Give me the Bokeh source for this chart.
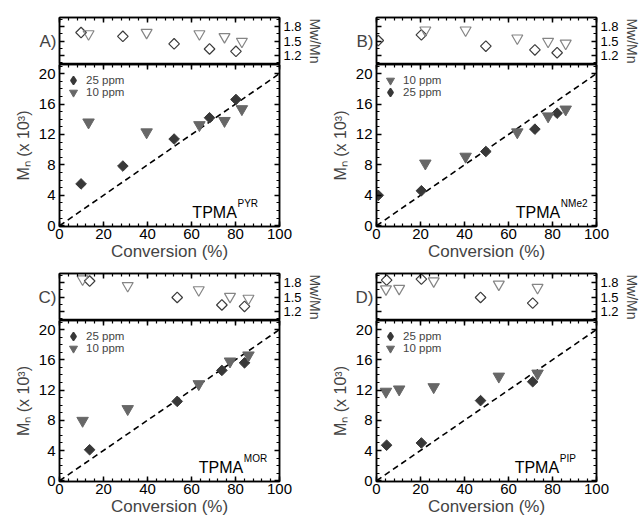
import math
from bokeh.plotting import figure
from bokeh.models import (Range1d, LinearAxis, FixedTicker, Legend, LegendItem, Label)
from bokeh.layouts import column, row
from bokeh.embed import file_html
from bokeh.resources import INLINE

FONT = "Liberation Sans"

# ---------------- data ----------------
theory_conv = [0, 100]
theory_mn = [0, 20]

x_ticks = [0, 20, 40, 60, 80, 100]
mn_ticks = [0, 4, 8, 12, 16, 20]
pdi_ticks = [1.2, 1.5, 1.8]

# Panel A: TPMA^PYR
conv_A_25 = [9.8, 28.8, 52.1, 68.2, 80.2]
mn_A_25 = [5.5, 7.85, 11.4, 14.2, 16.6]
pdi_A_25 = [1.68, 1.60, 1.44, 1.33, 1.28]
conv_A_10 = [13.2, 39.6, 63.6, 75.0, 82.9]
mn_A_10 = [13.6, 12.3, 13.25, 13.8, 15.35]
pdi_A_10 = [1.65, 1.68, 1.65, 1.59, 1.49]

# Panel B: TPMA^NMe2
conv_B_10 = [22.2, 40.5, 64.0, 78.0, 86.0]
mn_B_10 = [8.2, 9.1, 12.3, 14.4, 15.3]
pdi_B_10 = [1.73, 1.73, 1.56, 1.49, 1.45]
conv_B_25 = [0.8, 20.4, 49.7, 72.0, 82.1]
mn_B_25 = [4.0, 4.6, 9.76, 12.7, 14.8]
pdi_B_25 = [1.51, 1.63, 1.39, 1.31, 1.25]

# Panel C: TPMA^MOR
conv_C_25 = [13.7, 53.5, 73.8, 84.1]
mn_C_25 = [4.1, 10.5, 14.6, 15.6]
pdi_C_25 = [1.84, 1.49, 1.33, 1.30]
conv_C_10 = [10.5, 31.0, 63.3, 77.5, 85.9]
mn_C_10 = [7.95, 9.5, 12.8, 15.8, 16.6]
pdi_C_10 = [1.88, 1.74, 1.65, 1.51, 1.47]

# Panel D: TPMA^PIP
conv_D_25 = [4.6, 20.4, 47.3, 71.0]
mn_D_25 = [4.7, 5.0, 10.6, 13.1]
pdi_D_25 = [1.86, 1.88, 1.49, 1.37]
conv_D_10 = [4.3, 10.3, 26.0, 55.6, 73.2]
mn_D_10 = [11.8, 12.1, 12.4, 13.8, 14.2]
pdi_D_10 = [1.67, 1.68, 1.84, 1.77, 1.70]

panel_letters = ["A)", "B)", "C)", "D)"]
ligand_names = ["PYR", "NMe2", "MOR", "PIP"]
series_labels = ["25 ppm", "10 ppm"]

# ---------------- styling ----------------
DIAM_FILL = "#383838"
TRI_FILL = "#676767"
DIAM_LINE = "#3c3c3c"
TRI_LINE = "#858585"

x_minor = list(range(0, 101, 4))
mn_minor = list(range(0, 22))
pdi_minor = [1.05, 1.35, 1.65, 1.95]


def style_axis(ax, labels=True, size="14px"):
    ax.axis_line_width = 1.5
    ax.axis_line_color = "black"
    ax.major_tick_in = 5
    ax.major_tick_out = 0
    ax.minor_tick_in = 3
    ax.minor_tick_out = 0
    ax.major_tick_line_width = 1.5
    ax.minor_tick_line_width = 1.2
    ax.major_tick_line_color = "black"
    ax.minor_tick_line_color = "black"
    if labels:
        ax.major_label_text_font = FONT
        ax.major_label_text_font_size = size
        ax.major_label_text_color = "black"
    else:
        ax.major_label_text_font_size = "0px"
        ax.major_label_standoff = 0


def make_block(letter, lig, c25, m25, d25, c10, m10, d10, order, bl, br, bt, fh, bb, tpma_x):
    # ---- top (dispersity) panel ----
    t = figure(frame_width=220, frame_height=47, x_range=Range1d(0, 100), y_range=Range1d(1.0, 2.0),
               output_backend="svg", toolbar_location=None,
               x_axis_location=None, y_axis_location=None,
               min_border_left=bl, min_border_right=br, min_border_top=bt, min_border_bottom=0,
               background_fill_color="white", border_fill_color="white")
    t.xgrid.visible = False
    t.ygrid.visible = False
    t.outline_line_color = "black"
    t.outline_line_width = 1.5

    ax = LinearAxis(ticker=FixedTicker(ticks=pdi_ticks, minor_ticks=pdi_minor), axis_label=letter)
    style_axis(ax, labels=False)
    ax.axis_label_orientation = "horizontal"
    ax.axis_label_standoff = 3
    ax.axis_label_text_font = FONT
    ax.axis_label_text_font_size = "17px"
    ax.axis_label_text_font_style = "normal"
    t.add_layout(ax, "left")
    ax = LinearAxis(ticker=FixedTicker(ticks=pdi_ticks, minor_ticks=pdi_minor), axis_label="Mw/Mn")
    style_axis(ax, labels=True, size="13px")
    ax.major_label_standoff = 4
    ax.axis_label_standoff = 2
    ax.axis_label_text_font = FONT
    ax.axis_label_text_font_size = "14px"
    ax.axis_label_text_font_style = "normal"
    t.add_layout(ax, "right")
    ax = LinearAxis(ticker=FixedTicker(ticks=x_ticks, minor_ticks=x_minor))
    style_axis(ax, labels=False)
    t.add_layout(ax, "above")

    t.scatter(c25, d25, marker="square", angle=math.pi / 4, size=7.5,
              fill_color=None, line_color=DIAM_LINE, line_width=1.2)
    t.scatter(c10, d10, marker="inverted_triangle", size=11,
              fill_color=None, line_color=TRI_LINE, line_width=1.2)

    # ---- main (Mn) panel ----
    m = figure(frame_width=220, frame_height=fh, x_range=Range1d(0, 100), y_range=Range1d(-0.1, 21.2),
               output_backend="svg", toolbar_location=None,
               x_axis_location=None, y_axis_location=None,
               min_border_left=bl, min_border_right=br, min_border_top=0, min_border_bottom=bb,
               background_fill_color="white", border_fill_color="white")
    m.xgrid.visible = False
    m.ygrid.visible = False
    m.outline_line_color = "black"
    m.outline_line_width = 1.5

    ax = LinearAxis(ticker=FixedTicker(ticks=mn_ticks, minor_ticks=mn_minor), axis_label="Mₙ (x 10³)")
    style_axis(ax, labels=True, size="15px")
    ax.major_label_standoff = 4
    ax.axis_label_standoff = 4
    ax.axis_label_text_font = FONT
    ax.axis_label_text_font_size = "16px"
    ax.axis_label_text_font_style = "normal"
    m.add_layout(ax, "left")
    ax = LinearAxis(ticker=FixedTicker(ticks=x_ticks, minor_ticks=x_minor), axis_label="Conversion (%)")
    style_axis(ax, labels=True, size="15px")
    ax.major_label_standoff = 2
    ax.axis_label_standoff = 0
    ax.axis_label_text_font = FONT
    ax.axis_label_text_font_size = "17px"
    ax.axis_label_text_font_style = "normal"
    m.add_layout(ax, "below")
    ax = LinearAxis(ticker=FixedTicker(ticks=mn_ticks, minor_ticks=mn_minor))
    style_axis(ax, labels=False)
    m.add_layout(ax, "right")
    ax = LinearAxis(ticker=FixedTicker(ticks=x_ticks, minor_ticks=x_minor))
    style_axis(ax, labels=False)
    m.add_layout(ax, "above")

    m.line(theory_conv, theory_mn, line_dash="6 4", line_color="black", line_width=1.6)
    # legend proxy for the diamond series (legend glyphs ignore marker angle):
    # tiny diamonds drawn first, fully hidden beneath the real markers
    p25 = m.scatter(c25, m25, marker="diamond", size=1,
                    fill_color=DIAM_FILL, line_color=DIAM_FILL, line_width=1.5)
    m.scatter(c25, m25, marker="square", angle=math.pi / 4, size=7.5,
              fill_color=DIAM_FILL, line_color=DIAM_FILL, line_width=1)
    r10 = m.scatter(c10, m10, marker="inverted_triangle", size=11.5,
                    fill_color=TRI_FILL, line_color=TRI_FILL, line_width=1)
    items = {"25": LegendItem(label=series_labels[0], renderers=[p25]),
             "10": LegendItem(label=series_labels[1], renderers=[r10])}
    # one legend per row, so that the rows can sit closer than the glyph box
    for i, k in enumerate(order):
        top = 3.5 + 12.8 * i
        leg = Legend(items=[items[k]], location=(4, fh - top - 22),
                     glyph_width=20, glyph_height=20, label_standoff=3,
                     margin=0, padding=1, label_text_font=FONT, label_text_font_size="11.5px",
                     border_line_color=None, background_fill_alpha=0)
        m.add_layout(leg)

    m.add_layout(Label(x=tpma_x, y=1.7, text="TPMA", text_align="right", text_baseline="alphabetic",
                       text_font=FONT, text_font_size="16px", text_color="black"))
    m.add_layout(Label(x=tpma_x + 0.3, y=2.9, text=lig, text_align="left", text_baseline="alphabetic",
                       text_font=FONT, text_font_size="10px", text_color="black"))
    return column(t, m)


bA = make_block(panel_letters[0], ligand_names[0], conv_A_25, mn_A_25, pdi_A_25,
                conv_A_10, mn_A_10, pdi_A_10, ["25", "10"], 59, 43, 17, 162, 36, 80.6)
bB = make_block(panel_letters[1], ligand_names[1], conv_B_25, mn_B_25, pdi_B_25,
                conv_B_10, mn_B_10, pdi_B_10, ["10", "25"], 51, 50, 17, 162, 36, 83.5)
bC = make_block(panel_letters[2], ligand_names[2], conv_C_25, mn_C_25, pdi_C_25,
                conv_C_10, mn_C_10, pdi_C_10, ["25", "10"], 59, 43, 10, 161, 36, 83.5)
bD = make_block(panel_letters[3], ligand_names[3], conv_D_25, mn_D_25, pdi_D_25,
                conv_D_10, mn_D_10, pdi_D_10, ["25", "10"], 51, 50, 10, 161, 36, 83.0)

layout = column(row(bA, bB), row(bC, bD))

open("out.html", "w").write(file_html(layout, INLINE))
